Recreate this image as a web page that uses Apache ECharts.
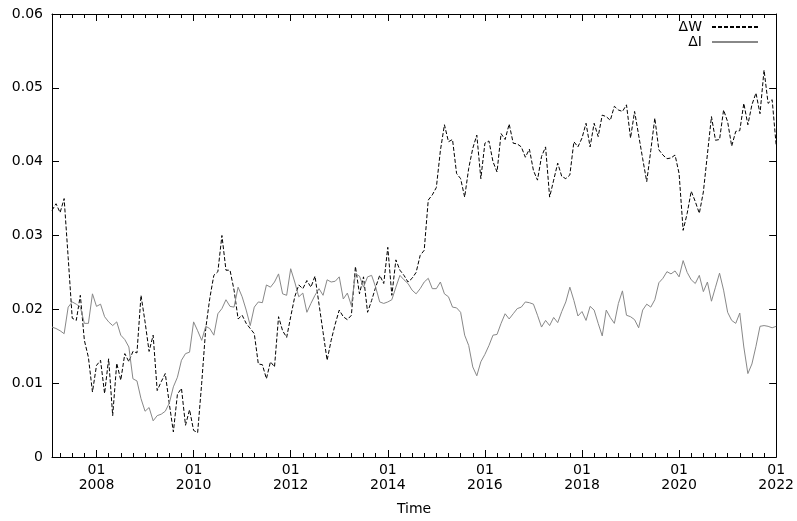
<!DOCTYPE html>
<html>
<head>
<meta charset="utf-8">
<script src="https://cdn.jsdelivr.net/npm/echarts@6/dist/echarts.min.js"></script>
<style>
html, body { margin: 0; padding: 0; background: #fff; }
#chart { width: 797px; height: 521px; }
</style>
</head>
<body>
<div id="chart"></div>
<script>
// Monthly series; x is the month index counted from January 2007 (0 = 2007-01).
const firstMonth = 1;      // first observation: February 2007
const lastMonth = 180;     // January 2022

const deltaW = [
  0.0334, 0.0343, 0.0331, 0.0350, 0.0270, 0.0188, 0.0185, 0.0219, 0.0158, 0.0135, 0.0088, 0.0124,
  0.0131, 0.0086, 0.0133, 0.0056, 0.0127, 0.0104, 0.0140, 0.0129, 0.0143, 0.0141, 0.0219, 0.0183,
  0.0143, 0.0165, 0.0090, 0.0102, 0.0113, 0.0072, 0.0034, 0.0085, 0.0093, 0.0043, 0.0064, 0.0036,
  0.0033, 0.0100, 0.0174, 0.0215, 0.0246, 0.0251, 0.0300, 0.0253, 0.0253, 0.0226, 0.0187, 0.0192,
  0.0181, 0.0174, 0.0167, 0.0126, 0.0125, 0.0106, 0.0129, 0.0122, 0.0190, 0.0171, 0.0162, 0.0190,
  0.0217, 0.0233, 0.0228, 0.0239, 0.0230, 0.0245, 0.0207, 0.0169, 0.0131, 0.0158, 0.0180, 0.0199,
  0.0190, 0.0186, 0.0192, 0.0258, 0.0221, 0.0244, 0.0196, 0.0212, 0.0230, 0.0246, 0.0235, 0.0284,
  0.0219, 0.0267, 0.0253, 0.0246, 0.0237, 0.0242, 0.0250, 0.0273, 0.0280, 0.0348, 0.0355, 0.0365,
  0.0415, 0.0450, 0.0427, 0.0430, 0.0384, 0.0377, 0.0352, 0.0391, 0.0418, 0.0436, 0.0377, 0.0425,
  0.0428, 0.0400, 0.0386, 0.0438, 0.0430, 0.0451, 0.0425, 0.0424, 0.0420, 0.0406, 0.0417, 0.0388,
  0.0375, 0.0407, 0.0420, 0.0352, 0.0375, 0.0398, 0.0380, 0.0377, 0.0382, 0.0427, 0.0420, 0.0432,
  0.0452, 0.0420, 0.0452, 0.0434, 0.0463, 0.0461, 0.0456, 0.0475, 0.0470, 0.0468, 0.0477, 0.0432,
  0.0468, 0.0436, 0.0404, 0.0373, 0.0415, 0.0459, 0.0416, 0.0409, 0.0404, 0.0405, 0.0409, 0.0384,
  0.0307, 0.0330, 0.0360, 0.0346, 0.0330, 0.0359, 0.0410, 0.0461, 0.0429, 0.0430, 0.0470, 0.0454,
  0.0421, 0.0441, 0.0442, 0.0479, 0.0450, 0.0477, 0.0493, 0.0465, 0.0524, 0.0479, 0.0484, 0.0422
];

const deltaI = [
  0.0176, 0.0174, 0.0171, 0.0167, 0.0203, 0.0210, 0.0207, 0.0203, 0.0181, 0.0181, 0.0221, 0.0204,
  0.0207, 0.0190, 0.0183, 0.0178, 0.0183, 0.0165, 0.0159, 0.0149, 0.0106, 0.0103, 0.0079, 0.0062,
  0.0067, 0.0049, 0.0056, 0.0058, 0.0062, 0.0073, 0.0095, 0.0108, 0.0131, 0.0140, 0.0142, 0.0183,
  0.0171, 0.0158, 0.0177, 0.0174, 0.0165, 0.0194, 0.0201, 0.0213, 0.0204, 0.0203, 0.0230, 0.0217,
  0.0199, 0.0178, 0.0203, 0.0210, 0.0209, 0.0233, 0.0230, 0.0237, 0.0248, 0.0221, 0.0219, 0.0255,
  0.0237, 0.0217, 0.0222, 0.0196, 0.0208, 0.0219, 0.0228, 0.0219, 0.0240, 0.0237, 0.0238, 0.0244,
  0.0214, 0.0222, 0.0205, 0.0248, 0.0245, 0.0230, 0.0244, 0.0246, 0.0230, 0.0210, 0.0208, 0.0210,
  0.0213, 0.0230, 0.0246, 0.0240, 0.0235, 0.0226, 0.0221, 0.0228, 0.0237, 0.0242, 0.0228, 0.0228,
  0.0237, 0.0221, 0.0217, 0.0203, 0.0202, 0.0196, 0.0165, 0.0151, 0.0122, 0.0110, 0.0129, 0.0139,
  0.0151, 0.0165, 0.0166, 0.0181, 0.0194, 0.0187, 0.0194, 0.0201, 0.0203, 0.0210, 0.0209, 0.0207,
  0.0192, 0.0176, 0.0185, 0.0178, 0.0189, 0.0182, 0.0197, 0.0210, 0.0230, 0.0212, 0.0191, 0.0197,
  0.0185, 0.0204, 0.0199, 0.0181, 0.0164, 0.0199, 0.0189, 0.0181, 0.0208, 0.0225, 0.0192, 0.0190,
  0.0186, 0.0175, 0.0199, 0.0207, 0.0203, 0.0213, 0.0236, 0.0242, 0.0251, 0.0248, 0.0252, 0.0244,
  0.0266, 0.0250, 0.0240, 0.0235, 0.0246, 0.0224, 0.0237, 0.0211, 0.0230, 0.0249, 0.0226, 0.0196,
  0.0185, 0.0181, 0.0195, 0.0149, 0.0113, 0.0126, 0.0150, 0.0177, 0.0178, 0.0177, 0.0175, 0.0177
];

// January of every even year, and one small tick per quarter
const yearTicks = [12, 36, 60, 84, 108, 132, 156, 180];
const quarterTicks = [];
for (let m = 3; m <= lastMonth; m += 3) quarterTicks.push(m);

const toPairs = arr => arr.map((v, i) => [firstMonth + i, v]);

const FONT = '"DejaVu Sans", "Liberation Sans", Arial, sans-serif';
const FONT_SIZE = 14;
const INK = '#000';

function xAxisDef(position, ticks, tickLen, showLine, showLabels) {
  return {
    type: 'value',
    position: position,
    min: firstMonth,
    max: lastMonth,
    axisLine: { show: showLine, onZero: false, lineStyle: { color: INK, width: 1 } },
    axisTick: { show: true, inside: true, length: tickLen, customValues: ticks,
                lineStyle: { color: INK, width: 1 } },
    axisLabel: showLabels ? {
      show: true,
      customValues: yearTicks,
      margin: 6,
      color: INK,
      fontFamily: FONT,
      fontSize: FONT_SIZE,
      lineHeight: 15,
      formatter: v => '01\n' + (2007 + Math.floor(v / 12))
    } : { show: false },
    splitLine: { show: false }
  };
}

function yAxisDef(position, showLabels) {
  return {
    type: 'value',
    position: position,
    min: 0,
    max: 0.06,
    interval: 0.01,
    axisLine: { show: true, onZero: false, lineStyle: { color: INK, width: 1 } },
    axisTick: { show: true, inside: true, length: 7, lineStyle: { color: INK, width: 1 } },
    axisLabel: showLabels ? {
      show: true, margin: 9, color: INK, fontFamily: FONT, fontSize: FONT_SIZE
    } : { show: false },
    splitLine: { show: false }
  };
}

const bottomMajor = xAxisDef('bottom', yearTicks, 7, true, true);
bottomMajor.name = 'Time';
bottomMajor.nameLocation = 'middle';
bottomMajor.nameGap = 45;
bottomMajor.nameTextStyle = { color: INK, fontFamily: FONT, fontSize: FONT_SIZE };

const chart = echarts.init(document.getElementById('chart'), null, { renderer: 'canvas' });
chart.setOption({
  animation: false,
  backgroundColor: '#fff',
  grid: { left: 52, right: 20, top: 14, bottom: 64, containLabel: false },
  legend: {
    orient: 'vertical',
    right: 33,
    top: 15,
    align: 'right',
    itemWidth: 46,
    itemHeight: 10,
    itemGap: 1,
    itemStyle: { opacity: 0, borderWidth: 0 },
    textStyle: { color: INK, fontFamily: FONT, fontSize: FONT_SIZE, padding: [0, 5, 0, 0] },
    data: ['ΔW', 'ΔI']
  },
  xAxis: [
    bottomMajor,
    xAxisDef('bottom', quarterTicks, 4, false, false),
    xAxisDef('top', yearTicks, 7, true, false),
    xAxisDef('top', quarterTicks, 4, false, false)
  ],
  yAxis: [
    yAxisDef('left', true),
    yAxisDef('right', false)
  ],
  series: [
    {
      name: 'ΔW',
      type: 'line',
      xAxisIndex: 0,
      yAxisIndex: 0,
      data: toPairs(deltaW),
      symbol: 'none',
      lineStyle: { color: '#000', width: 1, type: [4, 2] },
      itemStyle: { color: '#000' }
    },
    {
      name: 'ΔI',
      type: 'line',
      xAxisIndex: 0,
      yAxisIndex: 0,
      data: toPairs(deltaI),
      symbol: 'none',
      lineStyle: { color: '#888', width: 1 },
      itemStyle: { color: '#888' }
    }
  ]
});
</script>
</body>
</html>
